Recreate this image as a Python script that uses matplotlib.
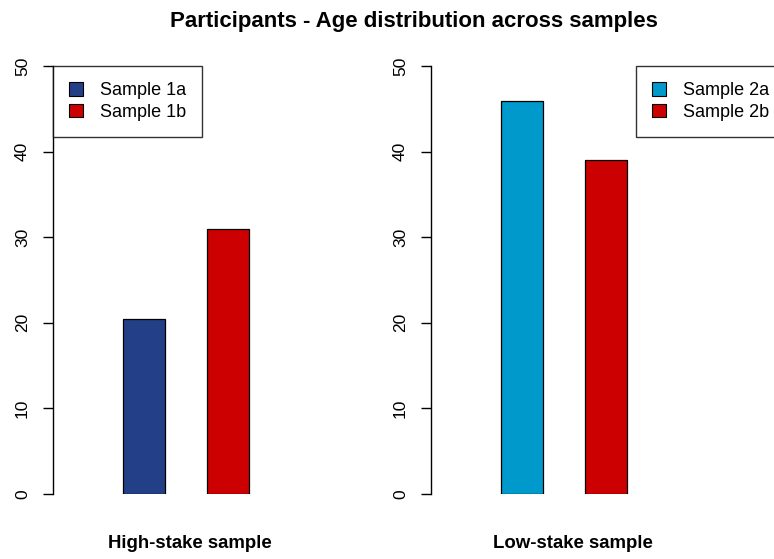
import matplotlib
matplotlib.use("Agg")
import matplotlib.pyplot as plt
from matplotlib.patches import Patch

plt.rcParams['font.family'] = ['Liberation Sans', 'DejaVu Sans']

title = "Participants - Age distribution across samples"
panel_labels = ["High-stake sample", "Low-stake sample"]
series_left = ["Sample 1a", "Sample 1b"]
values_left = [20.5, 31.0]
colors_left = ["#233F87", "#CC0000"]
series_right = ["Sample 2a", "Sample 2b"]
values_right = [45.9, 39.0]
colors_right = ["#0099CC", "#CC0000"]
yticks = [0, 10, 20, 30, 40, 50]

W, H = 774, 559
fig = plt.figure(figsize=(W / 100, H / 100), dpi=100)

def px_axes(x0, y0, x1, y1):
    return fig.add_axes([x0 / W, 1 - y1 / H, (x1 - x0) / W, (y1 - y0) / H])

unit = 42.0  # px per bar width
axw = 345

def panel(ax_left_px, names, vals, cols, xlabel, label_cx, leg_x):
    ax = px_axes(ax_left_px, 66, ax_left_px + axw, 494)
    ax.patch.set_alpha(0)
    x = [1.5, 3.5]
    ax.bar(x, vals, width=1.0, color=cols, edgecolor="black", linewidth=0.9)
    x0 = 1 - 70 / unit
    ax.set_xlim(x0, x0 + axw / unit)
    ax.set_ylim(0, 50)
    for s in ["top", "right", "bottom"]:
        ax.spines[s].set_visible(False)
    ax.spines["left"].set_linewidth(1.0)
    ax.set_xticks([])
    ax.set_yticks(yticks)
    ax.set_yticklabels([str(t) for t in yticks], rotation=90, va="center", fontsize=12.5)
    ax.tick_params(axis="y", length=7.5, width=1.0, pad=9, colors="black")
    fig.text(label_cx / W, 1 - 543 / H, xlabel, ha="center", va="center",
             fontsize=13.4, fontweight="bold")
    handles = [Patch(facecolor=c, edgecolor="black", linewidth=0.8) for c in cols]
    leg = ax.legend(handles, names, loc="upper left",
                    bbox_to_anchor=(leg_x / W, 1 - 66 / H), bbox_transform=fig.transFigure,
                    fontsize=13, frameon=True, fancybox=False, shadow=False,
                    handlelength=0.75, handleheight=0.75, handletextpad=0.95,
                    borderpad=0.9, labelspacing=0.25, borderaxespad=0)
    leg.get_frame().set_edgecolor("black")
    leg.get_frame().set_linewidth(1.0)
    return ax

panel(53, series_left, values_left, colors_left, panel_labels[0], 190, 53)
panel(431, series_right, values_right, colors_right, panel_labels[1], 573, 636)

fig.text(413.5 / W, 1 - 21 / H, title, ha="center", va="center", fontsize=16, fontweight="bold")

fig.savefig("out.png", dpi=100)
